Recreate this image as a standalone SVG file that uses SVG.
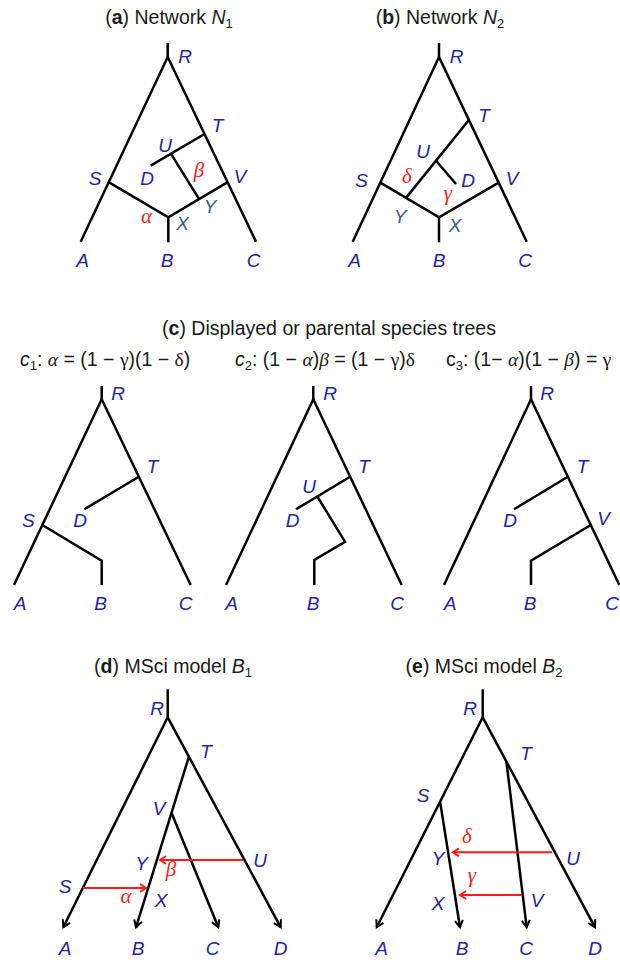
<svg xmlns="http://www.w3.org/2000/svg" width="620" height="960" viewBox="0 0 620 960">
<defs>
<style>
.e{stroke:#000;stroke-width:2.5;fill:none;stroke-linecap:butt;stroke-linejoin:miter}
.r{stroke:#ff1a1a;stroke-width:2;fill:none}
.n{font-family:"Liberation Sans",Arial,sans-serif;font-style:italic;font-size:19px;fill:#2424a0;text-anchor:middle}
.xy{fill:#3a5f8c}
.g{font-family:"Liberation Serif","Times New Roman",serif;font-style:italic;font-size:21px;fill:#ff1a1a;text-anchor:middle}
.t{font-family:"Liberation Sans",Arial,sans-serif;font-size:19.5px;fill:#1a1a1a;text-anchor:middle}
.f{font-family:"Liberation Sans",Arial,sans-serif;font-size:19.5px;fill:#1a1a1a}
.gs{font-family:"Liberation Serif","Times New Roman",serif}
</style>
<marker id="ah" markerUnits="userSpaceOnUse" markerWidth="14" markerHeight="14" refX="10" refY="7" orient="auto" overflow="visible">
<path d="M3,3 L10,7 L3,11" fill="none" stroke="#000" stroke-width="2"/>
</marker>
<marker id="ahr" markerUnits="userSpaceOnUse" markerWidth="14" markerHeight="14" refX="10" refY="7" orient="auto" overflow="visible">
<path d="M4,3 L10,7 L4,11" fill="none" stroke="#ff1a1a" stroke-width="2"/>
</marker>
</defs>
<rect width="620" height="960" fill="#fff"/>

<!-- Titles -->
<g id="titles">
<text class="t" x="169" y="24">(<tspan font-weight="bold">a</tspan>) Network <tspan font-style="italic">N</tspan><tspan font-size="13" dy="4">1</tspan></text>
<text class="t" x="440" y="24">(<tspan font-weight="bold">b</tspan>) Network <tspan font-style="italic">N</tspan><tspan font-size="13" dy="4">2</tspan></text>
<text class="t" x="329" y="335">(<tspan font-weight="bold">c</tspan>) Displayed or parental species trees</text>
<text class="t" x="173" y="673">(<tspan font-weight="bold">d</tspan>) MSci model <tspan font-style="italic">B</tspan><tspan font-size="13" dy="4">1</tspan></text>
<text class="t" x="484" y="673">(<tspan font-weight="bold">e</tspan>) MSci model <tspan font-style="italic">B</tspan><tspan font-size="13" dy="4">2</tspan></text>
</g>
<g id="formulas">
<text class="f" x="20" y="366"><tspan font-style="italic">c</tspan><tspan font-size="13" dy="4">1</tspan><tspan dy="-4">: </tspan><tspan class="gs" font-style="italic">α</tspan> = (1 − <tspan class="gs">γ</tspan>)(1 − <tspan class="gs">δ</tspan>)</text>
<text class="f" x="235" y="366"><tspan font-style="italic">c</tspan><tspan font-size="13" dy="4">2</tspan><tspan dy="-4">: (1 − </tspan><tspan class="gs" font-style="italic">α</tspan>)<tspan class="gs" font-style="italic">β</tspan> = (1 − <tspan class="gs">γ</tspan>)<tspan class="gs">δ</tspan></text>
<text class="f" x="446" y="366">c<tspan font-size="13" dy="4">3</tspan><tspan dy="-4">: (1− </tspan><tspan class="gs" font-style="italic">α</tspan>)(1 − <tspan class="gs" font-style="italic">β</tspan>) = <tspan class="gs">γ</tspan></text>
</g>

<!-- Panel a -->
<g id="a-edges" class="e">
<path d="M167.7,43 V57"/>
<path d="M167.7,57 L80.7,241.7"/>
<path d="M167.7,57 L256,241.7"/>
<path d="M109,182.3 L168.3,217.3 L227.3,182.3"/>
<path d="M168.3,217.3 V242.3"/>
<path d="M204.5,134 L150.7,165.7"/>
<path d="M171,153.8 L199,198.9"/>
</g>
<g id="a-R"><text class="n" x="185" y="62.7">R</text></g>
<g id="a-T"><text class="n" x="217.5" y="131.7">T</text></g>
<g id="a-U"><text class="n" x="165" y="151.7">U</text></g>
<g id="a-D"><text class="n" x="147" y="185">D</text></g>
<g id="a-S"><text class="n" x="95" y="185">S</text></g>
<g id="a-V"><text class="n" x="240" y="183.3">V</text></g>
<g id="a-beta"><text class="g" x="199" y="177">β</text></g>
<g id="a-Y"><text class="n xy" x="210" y="213">Y</text></g>
<g id="a-alpha"><text class="g" x="146.5" y="223.3">α</text></g>
<g id="a-X"><text class="n xy" x="182.5" y="230">X</text></g>
<g id="a-A"><text class="n" x="82.5" y="266.7">A</text></g>
<g id="a-B"><text class="n" x="167" y="266.7">B</text></g>
<g id="a-C"><text class="n" x="253.5" y="266.7">C</text></g>

<!-- Panel b -->
<g id="b-edges" class="e">
<path d="M439,43 V57"/>
<path d="M439,57 L352.7,241.7"/>
<path d="M439,57 L526.7,241.7"/>
<path d="M380.3,182.7 L439,217.3 L498.7,182.7"/>
<path d="M439,217.3 V242.3"/>
<path d="M468.9,120 L406,197.9"/>
<path d="M436,160.7 L456,184"/>
</g>
<g id="b-R"><text class="n" x="456.7" y="62.7">R</text></g>
<g id="b-T"><text class="n" x="484" y="121.7">T</text></g>
<g id="b-U"><text class="n" x="423" y="158">U</text></g>
<g id="b-S"><text class="n" x="361.7" y="186.7">S</text></g>
<g id="b-delta"><text class="g" x="407" y="183">δ</text></g>
<g id="b-D"><text class="n" x="468" y="186.7">D</text></g>
<g id="b-V"><text class="n" x="512" y="185">V</text></g>
<g id="b-gamma"><text class="g" x="448" y="200">γ</text></g>
<g id="b-Y"><text class="n xy" x="400" y="223">Y</text></g>
<g id="b-X"><text class="n xy" x="455" y="231.7">X</text></g>
<g id="b-A"><text class="n" x="354.5" y="266.7">A</text></g>
<g id="b-B"><text class="n" x="439" y="266.7">B</text></g>
<g id="b-C"><text class="n" x="525" y="266.7">C</text></g>

<!-- Panel c1 -->
<g id="c1-edges" class="e">
<path d="M101.7,386 V399.3"/>
<path d="M101.7,399.3 L14,585"/>
<path d="M101.7,399.3 L190.7,585"/>
<path d="M138.8,476.7 L84.3,509.3"/>
<path d="M42.3,525 L101.7,560.7 V585"/>
</g>
<g id="c1-R"><text class="n" x="118" y="400">R</text></g>
<g id="c1-T"><text class="n" x="152.5" y="473.3">T</text></g>
<g id="c1-D"><text class="n" x="80" y="526.7">D</text></g>
<g id="c1-S"><text class="n" x="28.3" y="526.7">S</text></g>
<g id="c1-A"><text class="n" x="20" y="610">A</text></g>
<g id="c1-B"><text class="n" x="100.7" y="610">B</text></g>
<g id="c1-C"><text class="n" x="185.5" y="610">C</text></g>

<!-- Panel c2 -->
<g id="c2-edges" class="e">
<path d="M313.3,386 V399.3"/>
<path d="M313.3,399.3 L226,585"/>
<path d="M313.3,399.3 L401.7,585"/>
<path d="M350.1,476.7 L296,509.3"/>
<path d="M317.3,496.5 L345,541.7 L314.3,560 V585"/>
</g>
<g id="c2-R"><text class="n" x="330" y="400">R</text></g>
<g id="c2-T"><text class="n" x="364" y="473.3">T</text></g>
<g id="c2-U"><text class="n" x="309" y="493">U</text></g>
<g id="c2-D"><text class="n" x="292.7" y="526.7">D</text></g>
<g id="c2-A"><text class="n" x="231.7" y="610">A</text></g>
<g id="c2-B"><text class="n" x="313" y="610">B</text></g>
<g id="c2-C"><text class="n" x="397" y="610">C</text></g>

<!-- Panel c3 -->
<g id="c3-edges" class="e">
<path d="M531,386 V399.3"/>
<path d="M531,399.3 L444,585"/>
<path d="M531,399.3 L619.3,585"/>
<path d="M567.8,476.7 L514,509.3"/>
<path d="M590.8,525 L531,560.7 V585"/>
</g>
<g id="c3-R"><text class="n" x="547" y="400">R</text></g>
<g id="c3-T"><text class="n" x="582.5" y="473.3">T</text></g>
<g id="c3-D"><text class="n" x="510" y="526.7">D</text></g>
<g id="c3-V"><text class="n" x="603.5" y="525">V</text></g>
<g id="c3-A"><text class="n" x="450" y="610">A</text></g>
<g id="c3-B"><text class="n" x="530" y="610">B</text></g>
<g id="c3-C"><text class="n" x="612" y="610">C</text></g>

<!-- Panel d -->
<g id="d-edges">
<g class="e">
<path d="M167.7,689.3 V717.3"/>
<path d="M167.7,717.3 L63.3,927.3" marker-end="url(#ah)"/>
<path d="M167.7,717.3 L280.7,927.3" marker-end="url(#ah)"/>
<path d="M188.9,756.7 L136,927.3" marker-end="url(#ah)"/>
<path d="M171.5,812.7 L218.3,927.3" marker-end="url(#ah)"/>
</g>
<g class="r">
<path d="M243,860 H160" marker-end="url(#ahr)"/>
<path d="M83,888 H146" marker-end="url(#ahr)"/>
</g>
</g>
<g id="d-R"><text class="n" x="157" y="715">R</text></g>
<g id="d-T"><text class="n" x="206" y="758.3">T</text></g>
<g id="d-V"><text class="n" x="159" y="815">V</text></g>
<g id="d-Y"><text class="n" x="141.7" y="870">Y</text></g>
<g id="d-U"><text class="n" x="260" y="866.7">U</text></g>
<g id="d-beta"><text class="g" x="171" y="876">β</text></g>
<g id="d-S"><text class="n" x="65" y="893.3">S</text></g>
<g id="d-alpha"><text class="g" x="126" y="903.3">α</text></g>
<g id="d-X"><text class="n" x="161" y="906.7">X</text></g>
<g id="d-A"><text class="n" x="65" y="955">A</text></g>
<g id="d-B"><text class="n" x="138" y="955">B</text></g>
<g id="d-C"><text class="n" x="212.5" y="955">C</text></g>
<g id="d-D"><text class="n" x="280.5" y="955">D</text></g>

<!-- Panel e -->
<g id="e-edges">
<g class="e">
<path d="M482.7,689.3 V717.3"/>
<path d="M482.7,717.3 L376.7,927.3" marker-end="url(#ah)"/>
<path d="M482.7,717.3 L595,927.3" marker-end="url(#ah)"/>
<path d="M440.1,801.7 L460,927.3" marker-end="url(#ah)"/>
<path d="M506.4,761.7 L526.7,927.3" marker-end="url(#ah)"/>
</g>
<g class="r">
<path d="M552,852.3 H453" marker-end="url(#ahr)"/>
<path d="M522,895 H460" marker-end="url(#ahr)"/>
</g>
</g>
<g id="e-R"><text class="n" x="470" y="715">R</text></g>
<g id="e-T"><text class="n" x="526" y="760">T</text></g>
<g id="e-S"><text class="n" x="423" y="801.7">S</text></g>
<g id="e-delta"><text class="g" x="467" y="843">δ</text></g>
<g id="e-Y"><text class="n" x="438" y="865">Y</text></g>
<g id="e-U"><text class="n" x="573" y="865">U</text></g>
<g id="e-gamma"><text class="g" x="472" y="882">γ</text></g>
<g id="e-X"><text class="n" x="438" y="910">X</text></g>
<g id="e-V"><text class="n" x="537" y="906.7">V</text></g>
<g id="e-A"><text class="n" x="381.7" y="955">A</text></g>
<g id="e-B"><text class="n" x="462" y="955">B</text></g>
<g id="e-C"><text class="n" x="526" y="955">C</text></g>
<g id="e-D"><text class="n" x="595" y="955">D</text></g>
</svg>
